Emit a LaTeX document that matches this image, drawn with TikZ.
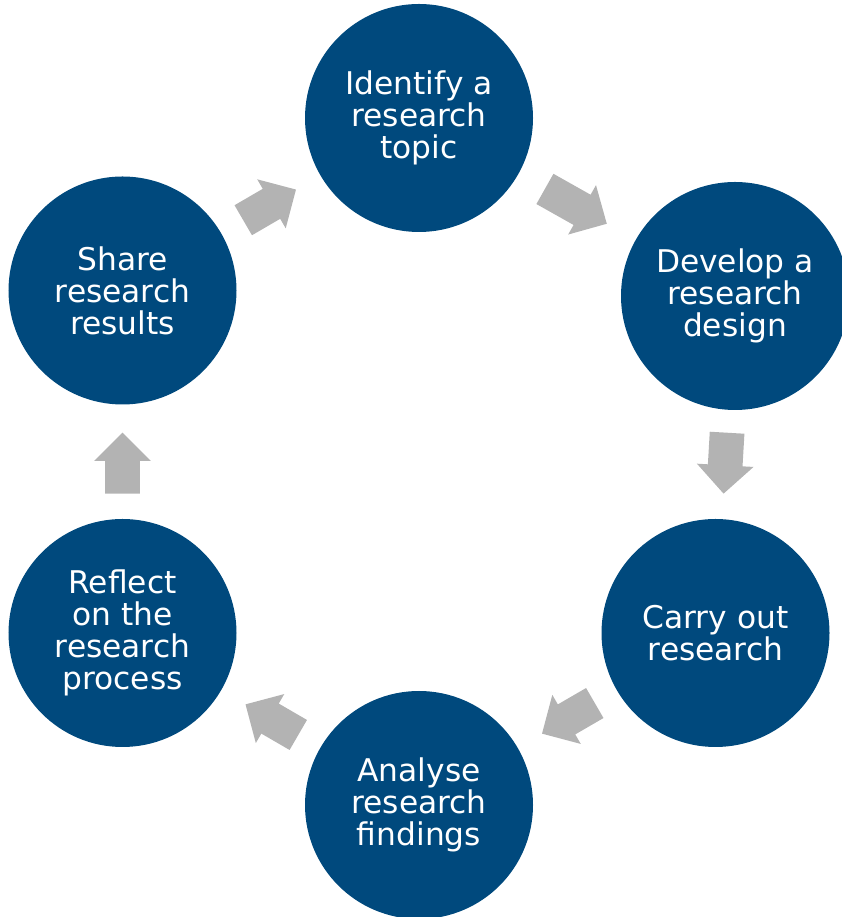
\documentclass[tikz,border=0pt]{standalone}
\usepackage{fontspec}
\setmainfont{DejaVu Sans}
\usetikzlibrary{calc}
\usetikzlibrary{shapes.arrows}
\usepackage{xcolor}

\definecolor{stageblue}{RGB}{0,73,125}
\definecolor{arrowgray}{RGB}{179,179,179}

\tikzset{
  stage/.style={circle, fill=stageblue, text=white, minimum size=4.56cm,
    inner sep=0pt, align=center, font=\fontsize{17.8}{18.2}\selectfont},
  cyclearrow/.style={single arrow, fill=arrowgray, draw=none, inner xsep=0pt,
    inner ysep=0.34cm, single arrow head extend=0.22cm},
}

% gray block arrow halfway between two stages, pointing from #2 to #3
\newcommand{\cyclestep}[3][1.22cm]{%
  \path let \p1 = ($(#3)-(#2)$), \n1 = {atan2(\y1,\x1)} in
    ($(#2)!0.5!(#3)!0.2cm!(#2)$) node[cyclearrow, minimum height=#1, rotate=\n1] (#2-#3) {};}

\begin{document}
\begin{tikzpicture}
            \useasboundingbox (0,0) rectangle (16.84,18.34);

            % Stages of the cycle
            \node[stage] (identify) at (8.38,15.98) {Identify a\\research\\topic};
            \node[stage] (develop) at (14.70,12.42) {Develop a\\research\\design};
            \node[stage] (carry) at (14.31,5.68) {Carry out\\research};
            \node[stage] (analyse) at (8.38,2.24) {Analyse\\research\\findings};
            \node[stage] (reflect) at (2.45,5.68) {Reflect\\on the\\research\\process};
            \node[stage] (share) at (2.45,12.53) {Share\\research\\results};

            % Arrows between the stages
            \cyclestep[1.42cm]{identify}{develop}
            \cyclestep{develop}{carry}
            \cyclestep{carry}{analyse}
            \cyclestep{analyse}{reflect}
            \cyclestep{reflect}{share}
            \cyclestep{share}{identify}
        \end{tikzpicture}
\end{document}
